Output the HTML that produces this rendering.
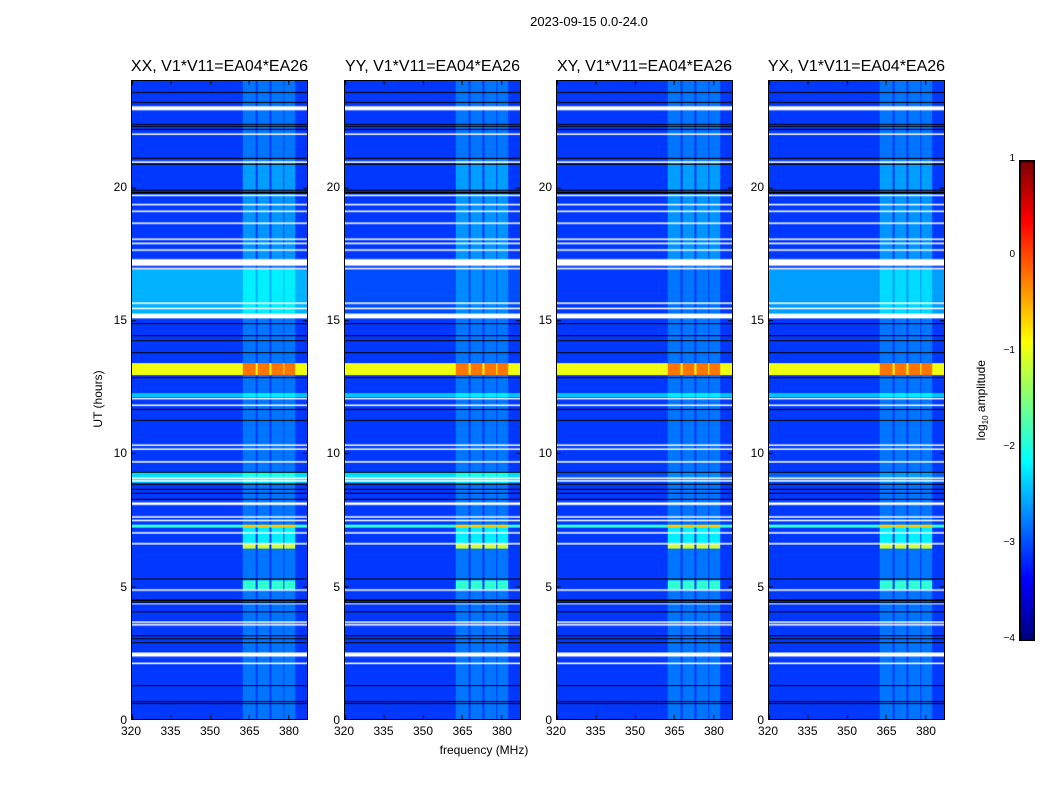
<!DOCTYPE html>
<html><head><meta charset="utf-8"><style>
body{margin:0;background:#fff;width:1050px;height:800px;overflow:hidden;font-family:"Liberation Sans",sans-serif}
canvas{position:absolute;border:1px solid #000;box-sizing:border-box}
.t{position:absolute;font-size:12px;color:#000;white-space:nowrap}
</style></head><body>
<div id="root" style="position:relative;width:1050px;height:800px">
<div class="t" style="left:489px;top:14px;width:200px;text-align:center;font-size:13px">2023-09-15 0.0-24.0</div>
<div class="t" style="left:384px;top:743px;width:200px;text-align:center;font-size:12px">frequency (MHz)</div>
<div class="t" style="left:48px;top:392px;width:100px;text-align:center;transform:rotate(-90deg);font-size:12px">UT (hours)</div>
<canvas id="cbar" width="16" height="481" style="left:1019px;top:160px;width:16px;height:481px"></canvas>
<div class="t" style="left:922px;top:392px;width:120px;text-align:center;transform:rotate(-90deg);font-size:12px">log<sub style="font-size:8px">10</sub> amplitude</div>
</div>
<script>
const panelTitles=["XX, V1*V11=EA04*EA26","YY, V1*V11=EA04*EA26","XY, V1*V11=EA04*EA26","YX, V1*V11=EA04*EA26"];
const panelLefts=[131,344,556,768];
const xTicks=[320,335,350,365,380];
const yTicks=[0,5,10,15,20];
const cbTicks=[1,0,-1,-2,-3,-4];
const subbands=[[362.5,367.4],[368.2,372.7],[373.5,378.1],[378.6,382.7]];
// time segments: [start h, end h, background log amp, subband boost]
const segments=[[0,24,-3.1,0.3],[19.9,21.0,-3.1,0.5],[12.95,13.4,-0.95,0.75],[12.1,12.25,-2.4,0.2],
 [6.4,6.6,-3.1,2.0],[6.6,7.2,-3.1,0.9],[7.2,7.3,-1.9,1.3],[4.85,5.2,-3.1,1.2],[17.1,19.8,-3.1,0.45]];
const varBandA=[-2.5,-3.0,-3.1,-2.6]; // 15.2-16.9 h level per panel
const varBandB=[-2.3,-2.3,-3.0,-2.9]; // 8.9-9.25 h level per panel
const whiteRows=[[22.9,23.05],[21.98,22.03],[20.93,20.98],[19.68,19.73],[19.33,19.38],[19.08,19.13],[18.63,18.68],[18.03,18.08],[17.88,17.92],[17.63,17.67],[17.05,17.3],[16.93,16.97],[15.63,15.67],[15.43,15.47],[15.07,15.25],[12.03,12.08],[11.78,11.83],[10.28,10.33],[10.13,10.18],[9.65,9.7],[9.05,9.09],[8.95,8.99],[8.05,8.15],[7.58,7.63],[7.45,7.5],[6.98,7.03],[6.58,6.62],[4.83,4.88],[4.33,4.37],[3.63,3.67],[3.53,3.57],[2.35,2.5],[2.08,2.12]];
const blackRows=[23.6,23.2,22.4,22.3,22.2,21.1,20.9,19.9,19.85,19.8,14.9,14.45,14.25,13.8,12.85,11.65,11.25,9.3,8.85,8.65,8.5,8.3,8.27,5.3,5.27,4.5,4.45,4.4,4.05,3.15,3.03,2.9,1.28,0.68,0.6];
const F0=320,PXMHZ=2.633,W=177,H=640,TOP=80,HMAX=24;
function jet(v){let t=(v+4)/5;t=Math.max(0,Math.min(1,t));
 const c=x=>Math.max(0,Math.min(1,1.5-Math.abs(4*t-x)));
 return [c(3)*255,c(2)*255,c(1)*255];}
function hy(h){return TOP+H-h/HMAX*H}
const root=document.getElementById('root');
panelLefts.forEach((L,pi)=>{
 const cv=document.createElement('canvas');cv.width=W;cv.height=H;
 cv.style.left=L+'px';cv.style.top=TOP+'px';cv.style.width=W+'px';cv.style.height=H+'px';
 
 
 root.appendChild(cv);
 const ctx=cv.getContext('2d');const img=ctx.createImageData(W,H);
 for(let y=0;y<H;y++){const h=(H-y-0.5)/H*HMAX;
  let bg=-3.1,act=0.3;
  segments.forEach(s=>{if(h>=s[0]&&h<s[1]){bg=s[2];act=s[3];}});
  if(h>=15.2&&h<16.9)bg=varBandA[pi];
  if(h>=8.9&&h<9.25)bg=varBandB[pi];
  for(let x=0;x<W;x++){const f=F0+(x+0.5)/PXMHZ;let v=bg;
   subbands.forEach(b=>{if(f>=b[0]&&f<b[1])v=bg+act;});
   const c=jet(v);const i=(y*W+x)*4;img.data[i]=c[0];img.data[i+1]=c[1];img.data[i+2]=c[2];img.data[i+3]=255;}}
 ctx.putImageData(img,0,0);
 ctx.fillStyle='#fff';whiteRows.forEach(r=>{const y1=H-r[1]/HMAX*H,y2=H-r[0]/HMAX*H;ctx.fillRect(0,y1,W,Math.max(1.5,y2-y1));});
 ctx.fillStyle='#000';blackRows.forEach(h=>{ctx.fillRect(0,Math.round(H-h/HMAX*H),W,1);});
 ctx.strokeStyle='#000';ctx.lineWidth=1;
 xTicks.forEach(t=>{const x=Math.round((t-F0)*PXMHZ)+0.5;ctx.beginPath();ctx.moveTo(x,H);ctx.lineTo(x,H-4);ctx.moveTo(x,0);ctx.lineTo(x,4);ctx.stroke();});
 yTicks.forEach(t=>{const y=Math.round(H-t/HMAX*H)+0.5;ctx.beginPath();ctx.moveTo(0,y);ctx.lineTo(4,y);ctx.moveTo(W,y);ctx.lineTo(W-4,y);ctx.stroke();});
 const ti=document.createElement('div');ti.className='t';ti.textContent=panelTitles[pi];
 ti.style.cssText+=`left:${L-40}px;top:58px;width:${W+80}px;text-align:center;font-size:16px`;
 
 
 root.appendChild(ti);
 xTicks.forEach(t=>{const d=document.createElement('div');d.className='t';d.textContent=t;
  d.style.cssText+=`left:${L+(t-F0)*PXMHZ-20}px;top:724px;width:40px;text-align:center`;
  
  
  root.appendChild(d);});
 yTicks.forEach(t=>{const d=document.createElement('div');d.className='t';d.textContent=t;
  d.style.cssText+=`left:${L-44}px;top:${hy(t)-7}px;width:40px;text-align:right`;
  
  
  root.appendChild(d);});
});
const cb=document.getElementById('cbar');const cc=cb.getContext('2d');
for(let y=0;y<481;y++){const v=1-y/480*5;const c=jet(v);cc.fillStyle=`rgb(${c[0]|0},${c[1]|0},${c[2]|0})`;cc.fillRect(0,y,16,1);}
cc.strokeStyle='#000';cc.strokeRect(0.5,0.5,15,480);
cbTicks.forEach(t=>{const y=160+(1-t)/5*480;
 const d=document.createElement('div');d.className='t';d.textContent=t<0?'\u2212'+(-t):t;
 d.style.cssText+=`left:975px;top:${y-7}px;width:40px;text-align:right;font-size:10px`;
 
 
 root.appendChild(d);});
</script>
</body></html>
